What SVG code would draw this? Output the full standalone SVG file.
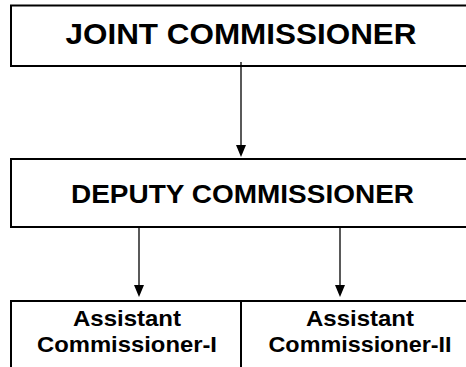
<svg xmlns="http://www.w3.org/2000/svg" width="466" height="367" viewBox="0 0 466 367">
<style>
.box{fill:#fff;stroke:#000;stroke-width:2}
.t{font-family:"Liberation Sans",Arial,sans-serif;font-weight:bold;fill:#000;text-anchor:middle}
.s{font-size:22.5px}
.c{stroke:#000;stroke-width:1.3;fill:none}
.h{fill:#000}
</style>
<g id="joint">
<rect class="box" x="11" y="5.5" width="462" height="60.5"/>
<text class="t" x="241" y="44" font-size="29.5" textLength="351" lengthAdjust="spacingAndGlyphs">JOINT COMMISSIONER</text>
</g>
<g id="deputy">
<rect class="box" x="11" y="159" width="462" height="68"/>
<text class="t" x="242.5" y="203" font-size="25.5" textLength="343" lengthAdjust="spacingAndGlyphs">DEPUTY COMMISSIONER</text>
</g>
<g id="ac1">
<rect class="box" x="11" y="301" width="230" height="80"/>
<text class="t s" x="127" y="326" textLength="108" lengthAdjust="spacingAndGlyphs">Assistant</text>
<text class="t s" x="127" y="352" textLength="180" lengthAdjust="spacingAndGlyphs">Commissioner-I</text>
</g>
<g id="ac2">
<rect class="box" x="241" y="301" width="232" height="80"/>
<text class="t s" x="360" y="326" textLength="108" lengthAdjust="spacingAndGlyphs">Assistant</text>
<text class="t s" x="360" y="352" textLength="183" lengthAdjust="spacingAndGlyphs">Commissioner-II</text>
</g>
<g id="connectors">
<line class="c" x1="241" y1="62" x2="241" y2="146"/>
<path class="h" d="M236,145 L246,145 L241,157 Z"/>
<line class="c" x1="139" y1="228" x2="139" y2="286"/>
<path class="h" d="M134,285 L144,285 L139,297 Z"/>
<line class="c" x1="340" y1="228" x2="340" y2="286"/>
<path class="h" d="M335,285 L345,285 L340,297 Z"/>
</g>
</svg>
